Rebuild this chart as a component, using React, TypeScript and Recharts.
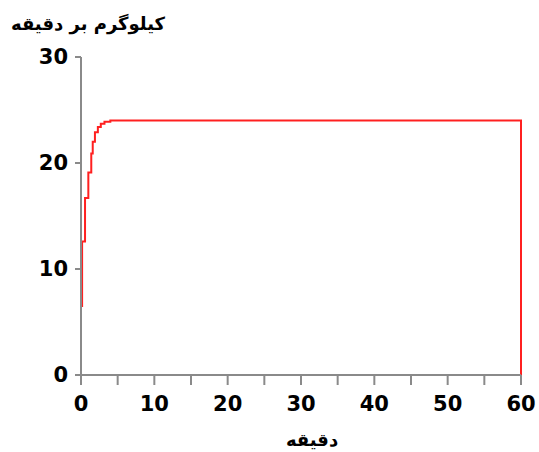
import React from 'react';
import { LineChart, Line, XAxis, YAxis } from 'recharts';

// time in minutes and flow in kg per minute
const minutes = [0, 0.15, 0.55, 1.0, 1.4, 1.6, 1.9, 2.3, 2.7, 3.2, 4.0, 60, 60];
const flow = [6.5, 12.6, 16.7, 19.1, 20.9, 22.0, 22.9, 23.4, 23.7, 23.9, 24, 24, 0];

const xTicks = [0, 5, 10, 15, 20, 25, 30, 35, 40, 45, 50, 55, 60];
const yTicks = [0, 10, 20, 30];

const yTitle = 'کیلوگرم بر دقیقه';
const xTitle = 'دقیقه';

const data = minutes.map((m, i) => ({ t: m, v: flow[i] }));

const axisColor = '#8a8a8a';
const tickStyle = { fill: '#000', fontFamily: '"DejaVu Sans", sans-serif', fontWeight: 700, fontSize: 21 };

const App: React.FC = () => {
  return (
    <div style={{ position: 'absolute', left: 0, top: 0, width: 539, height: 452, background: '#fff' }}>
      <div
        style={{
          position: 'absolute',
          left: 6,
          top: 13,
          width: 164,
          direction: 'rtl',
          textAlign: 'center',
          fontFamily: '"DejaVu Sans", sans-serif',
          fontWeight: 700,
          fontSize: 18,
          color: '#000',
        }}
      >
        {yTitle}
      </div>
      <LineChart width={539} height={452} data={data} margin={{ top: 57, right: 18, bottom: 2, left: 0 }}>
        <XAxis
          dataKey="t"
          type="number"
          domain={[0, 60]}
          ticks={xTicks}
          tickFormatter={(v: number) => (v % 10 === 0 ? String(v) : '')}
          interval={0}
          height={75}
          tickSize={10}
          tickMargin={11}
          stroke={axisColor}
          strokeWidth={2}
          tick={tickStyle}
          label={{
            value: xTitle,
            position: 'insideBottom',
            offset: 4,
            dx: 11,
            style: { fill: '#000', fontFamily: '"DejaVu Sans", sans-serif', fontWeight: 700, fontSize: 18 },
          }}
        />
        <YAxis
          type="number"
          domain={[0, 30]}
          ticks={yTicks}
          width={81}
          tickSize={6}
          tickMargin={7}
          stroke={axisColor}
          strokeWidth={2}
          tick={tickStyle}
        />
        <Line
          type="stepAfter"
          dataKey="v"
          stroke="#ff2020"
          strokeWidth={2}
          dot={false}
          isAnimationActive={false}
        />
      </LineChart>
    </div>
  );
};

export default App;
